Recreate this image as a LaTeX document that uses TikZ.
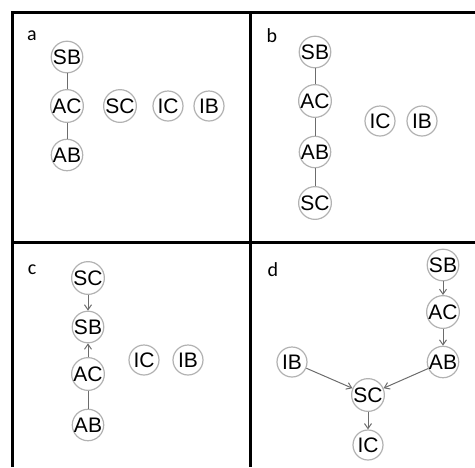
\documentclass[tikz,border=0pt]{standalone}
\usepackage{fontspec}
\setmainfont{Liberation Sans}
\newfontfamily\lblfont{Carlito}
\usetikzlibrary{arrows.meta}
\begin{document}
\begin{tikzpicture}[x=1pt,y=-1pt,
  vnode/.style={circle,draw=gray!60,line width=1.2pt,fill=white,minimum size=30pt,inner sep=0pt,
    font=\fontsize{21}{21}\selectfont,text=black},
  edge/.style={draw=gray!85!black,line width=1pt},
  arr/.style={edge,-{Straight Barb[length=5pt,width=7pt,line width=1pt]}},
  frame/.style={line width=3pt,black},
  plabel/.style={font=\lblfont\fontsize{20}{20}\selectfont,anchor=center}]
\useasboundingbox (0,0) rectangle (475,467);
% frame
\draw[frame] (12.5,467) -- (12.5,12) -- (475,12);
\draw[frame] (250,12) -- (250,467);
\draw[frame] (12.5,242) -- (475,242);
% panel a
\node[plabel] (la) at (32,36) {a};
\node[vnode] (aSB) at (67,57) {SB};
\node[vnode] (aAC) at (67,106) {AC};
\node[vnode] (aAB) at (67,155) {AB};
\node[vnode] (aSC) at (120,106) {SC};
\node[vnode] (aIC) at (168,106) {IC};
\node[vnode] (aIB) at (209,106) {IB};
\draw[edge] (aSB) -- (aAC);
\draw[edge] (aAC) -- (aAB);
% panel b
\node[plabel] (lb) at (272,36) {b};
\node[vnode] (bSB) at (315,52) {SB};
\node[vnode] (bAC) at (315,101) {AC};
\node[vnode] (bAB) at (315,152) {AB};
\node[vnode] (bSC) at (315,203) {SC};
\node[vnode] (bIC) at (380,121) {IC};
\node[vnode] (bIB) at (422,121) {IB};
\draw[edge] (bSB) -- (bAC);
\draw[edge] (bAC) -- (bAB);
\draw[edge] (bAB) -- (bSC);
% panel c
\node[plabel] (lc) at (32,270) {c};
\node[vnode] (cSC) at (88,278) {SC};
\node[vnode] (cSB) at (88,327) {SB};
\node[vnode] (cAC) at (88,374) {AC};
\node[vnode] (cAB) at (88,425) {AB};
\node[vnode] (cIC) at (144,360) {IC};
\node[vnode] (cIB) at (188,360) {IB};
\draw[arr] (cSC) -- (cSB);
\draw[arr] (cAC) -- (cSB);
\draw[edge] (cAC) -- (cAB);
% panel d
\node[plabel] (ld) at (273,270) {d};
\node[vnode] (dSB) at (443,265) {SB};
\node[vnode] (dAC) at (443,312) {AC};
\node[vnode] (dAB) at (443,362) {AB};
\node[vnode] (dIB) at (292,362) {IB};
\node[vnode] (dSC) at (368,395) {SC};
\node[vnode] (dIC) at (368,445) {IC};
\draw[arr] (dSB) -- (dAC);
\draw[arr] (dAC) -- (dAB);
\draw[arr] (dAB) -- (dSC);
\draw[arr] (dIB) -- (dSC);
\draw[arr] (dSC) -- (dIC);
\end{tikzpicture}
\end{document}
